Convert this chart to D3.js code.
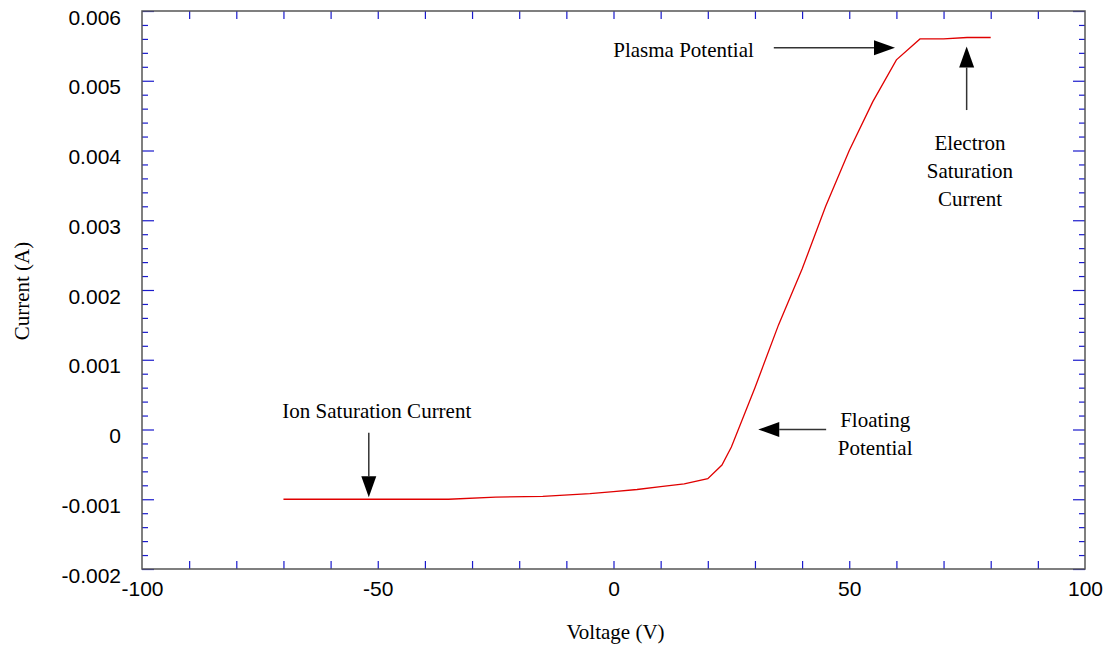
<!DOCTYPE html>
<html>
<head>
<meta charset="utf-8">
<script src="https://cdn.jsdelivr.net/npm/d3@7"></script>
<style>
  body { margin: 0; background: #fff; }
  .tick text { font-family: "Liberation Sans", Arial, sans-serif; font-size: 21px; fill: #000; }
  .serif { font-family: "Liberation Serif", "Times New Roman", serif; font-size: 21px; fill: #000; }
</style>
</head>
<body>
<svg id="chart"></svg>
<script>
// probe characteristic: voltage (V) vs current (A)
const voltage = [-70, -60, -50, -40, -35, -25, -15, -5, 0, 5, 10, 15, 20, 23, 25, 30, 35, 40, 45, 50, 55, 60, 65, 70, 75, 80];
const current = [-0.001, -0.001, -0.001, -0.001, -0.001, -0.00097, -0.00096, -0.00092, -0.00089, -0.00086, -0.00082, -0.00078, -0.000705, -0.00051, -0.00025,
    0.0006, 0.0015, 0.0023, 0.0032, 0.004, 0.0047, 0.0053, 0.0056, 0.0056, 0.00562, 0.00562];

const xTickLabels = [-100, -50, 0, 50, 100];
const yTickLabels = [-0.002, -0.001, 0, 0.001, 0.002, 0.003, 0.004, 0.005, 0.006];

// annotations, placed in data units
const annotations = [
    {lines: ["Plasma Potential"], x: 14.85, y: 0.005345, from: [34, 0.005474], to: [59.7, 0.005474]},
    {lines: ["Electron", "Saturation", "Current"], x: 75.6, y: 0.004007, from: [74.9, 0.00458], to: [74.9, 0.00549]},
    {lines: ["Ion Saturation Current"], x: -50.2, y: 0.000165, from: [-51.9, -0.000046], to: [-51.9, -0.000972]},
    {lines: ["Floating", "Potential"], x: 55.5, y: 0.00004, from: [45.1, 0], to: [30.7, 0]}
];

const W = 1111, H = 646;
const margin = {top: 11, right: 26, bottom: 77, left: 142};
const width = W - margin.left - margin.right;
const height = H - margin.top - margin.bottom;

const svg = d3.select("#chart").attr("width", W).attr("height", H);
const g = svg.append("g").attr("transform", "translate(" + margin.left + "," + margin.top + ")");

const x = d3.scaleLinear().domain([-100, 100]).range([0, width]);
const y = d3.scaleLinear().domain([-0.002, 0.006]).range([height, 0]);

const xMinor = d3.range(-90, 100, 10);
const yMinor = d3.range(-20, 61, 2).map(d => d / 10000).filter(d => Math.abs(d * 1000 - Math.round(d * 1000)) > 1e-9);
const tickColor = "#1a1acc";

function styleTicks(sel) {
    sel.select(".domain").remove();
    sel.selectAll(".tick line").attr("stroke", tickColor).attr("stroke-width", 1.2);
}

// x ticks (inward, top and bottom)
g.append("g").attr("transform", "translate(0," + height + ")")
    .call(d3.axisBottom(x).tickValues(xMinor).tickSize(-8).tickFormat(""))
    .call(styleTicks);
g.append("g")
    .call(d3.axisTop(x).tickValues(xMinor).tickSize(-8).tickFormat(""))
    .call(styleTicks);

// y ticks (inward, left and right), minor and major
g.append("g")
    .call(d3.axisLeft(y).tickValues(yMinor).tickSize(-6).tickFormat(""))
    .call(styleTicks);
g.append("g").attr("transform", "translate(" + width + ",0)")
    .call(d3.axisRight(y).tickValues(yMinor).tickSize(-6).tickFormat(""))
    .call(styleTicks);
g.append("g").attr("transform", "translate(" + width + ",0)")
    .call(d3.axisRight(y).tickValues(yTickLabels).tickSize(-12).tickFormat(""))
    .call(styleTicks);

// labelled axes
g.append("g").attr("transform", "translate(0," + height + ")")
    .call(d3.axisBottom(x).tickValues(xTickLabels).tickSize(0).tickPadding(12).tickFormat(d => String(d)))
    .call(sel => sel.select(".domain").remove());

g.append("g")
    .call(d3.axisLeft(y).tickValues(yTickLabels).tickSize(-12).tickPadding(21)
        .tickFormat(d => Math.abs(d) < 1e-12 ? "0" : d.toFixed(3)))
    .call(styleTicks)
    .call(sel => sel.selectAll(".tick text").attr("dy", "0.62em"));

// frame
g.append("rect")
    .attr("width", width).attr("height", height)
    .attr("fill", "none").attr("stroke", "#555").attr("stroke-width", 1.5);

// curve
const pts = voltage.map((v, i) => [v, current[i]]);
g.append("path")
    .datum(pts)
    .attr("fill", "none")
    .attr("stroke", "#e00000")
    .attr("stroke-width", 1.3)
    .attr("d", d3.line().x(d => x(d[0])).y(d => y(d[1])));

// annotations
annotations.forEach(a => {
    const t = g.append("text").attr("class", "serif")
        .attr("x", x(a.x)).attr("y", y(a.y))
        .attr("text-anchor", "middle");
    a.lines.forEach((l, i) => {
        t.append("tspan").attr("x", x(a.x)).attr("dy", i === 0 ? 0 : 28).text(l);
    });

    const x1 = x(a.from[0]), y1 = y(a.from[1]);
    const x2 = x(a.to[0]), y2 = y(a.to[1]);
    const ang = Math.atan2(y2 - y1, x2 - x1);
    const len = 21, half = 7.5;
    const bx = x2 - len * Math.cos(ang), by = y2 - len * Math.sin(ang);
    g.append("line")
        .attr("x1", x1).attr("y1", y1).attr("x2", bx).attr("y2", by)
        .attr("stroke", "#333").attr("stroke-width", 1.5);
    const px = -Math.sin(ang) * half, py = Math.cos(ang) * half;
    g.append("polygon")
        .attr("points", [[x2, y2], [bx + px, by + py], [bx - px, by - py]].map(p => p.join(",")).join(" "))
        .attr("fill", "#000");
});

// axis titles
svg.append("text").attr("class", "serif")
    .attr("x", margin.left + x(0) + 2).attr("y", 639)
    .attr("text-anchor", "middle")
    .text("Voltage (V)");

svg.append("text").attr("class", "serif")
    .attr("transform", "translate(29," + 291 + ") rotate(-90)")
    .attr("text-anchor", "middle")
    .text("Current (A)");
</script>
</body>
</html>
